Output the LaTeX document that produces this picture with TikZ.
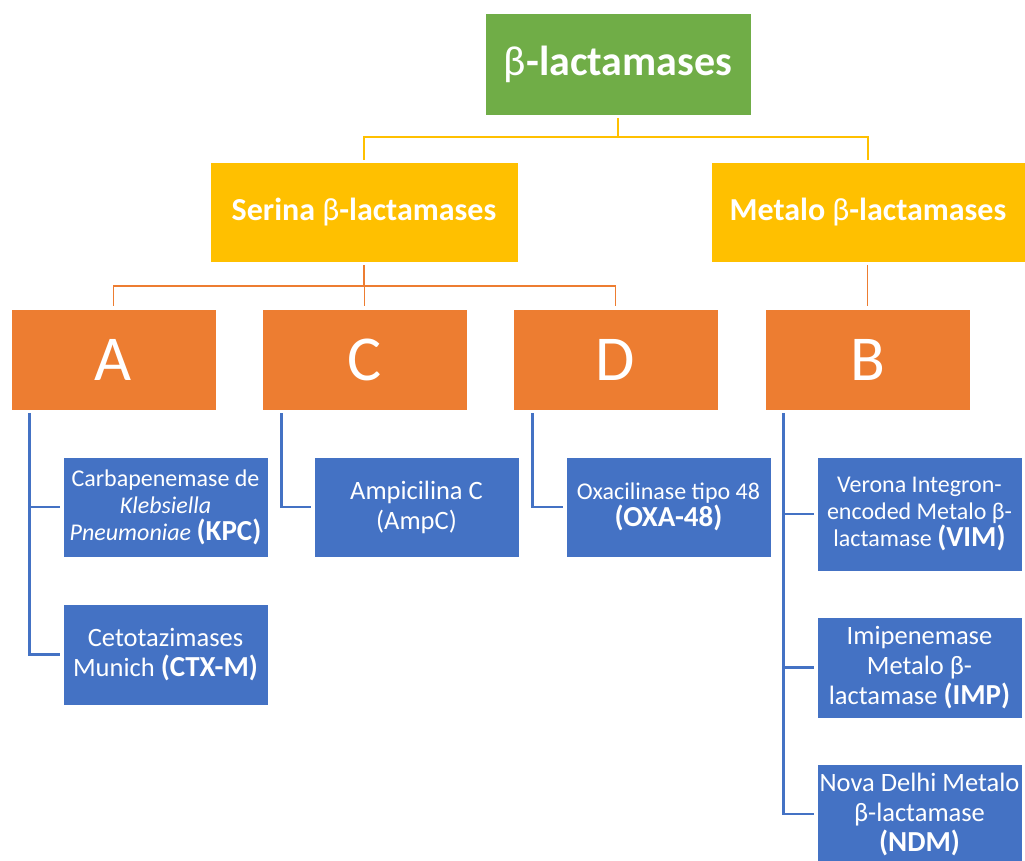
\documentclass[tikz,border=0pt]{standalone}
\usepackage{fontspec}
\setmainfont{Carlito}
\usetikzlibrary{calc}
\definecolor{cgreen}{HTML}{70AD47}
\definecolor{cyellow}{HTML}{FFC000}
\definecolor{corange}{HTML}{ED7D31}
\definecolor{cblue}{HTML}{4472C4}
\newcommand{\bk}[1]{{\fontsize{29}{29}\selectfont\bfseries #1}}
\begin{document}
\begin{tikzpicture}[x=1pt,y=-1pt,
  base/.style={rectangle, draw=white, line width=0.8pt, text=white, inner sep=0pt, align=center},
  rootbox/.style={base, fill=cgreen, minimum width=266pt, minimum height=102pt, font=\fontsize{42}{48}\selectfont\bfseries},
  midbox/.style={base, fill=cyellow, minimum height=100pt, font=\fontsize{32}{38}\selectfont\bfseries},
  letterbox/.style={base, fill=corange, minimum width=205pt, minimum height=101pt, font=\fontsize{64}{70}\selectfont},
  leafbox/.style={base, fill=cblue, minimum width=205pt, font=\fontsize{24}{27}\selectfont},
  leafbig/.style={leafbox, font=\fontsize{26.5}{30}\selectfont},
  yline/.style={draw=cyellow, line width=1.3pt},
  oline/.style={draw=corange, line width=1.3pt},
  bline/.style={draw=cblue, line width=2.8pt}
]
\useasboundingbox (0,0) rectangle (1025,861);
\clip (0,0) rectangle (1025,861);

% level 0
\node[rootbox] (root) at (618,64) {{\mdseries β}-lactamases};
% level 1
\node[midbox, minimum width=308pt] (serina) at (364,212) {Serina {\mdseries β}-lactamases};
\node[midbox, minimum width=314pt] (metalo) at (868,212) {Metalo {\mdseries β}-lactamases};
% level 2
\node[letterbox] (A) at (113.5,359.5) {A};
\node[letterbox] (C) at (364.5,359.5) {C};
\node[letterbox] (D) at (615.5,359.5) {D};
\node[letterbox] (B) at (867.5,359.5) {B};
% level 3
\node[leafbox, minimum height=100pt] (kpc) at (165.5,507) {Carbapenemase de\\ \textit{Klebsiella}\\ \textit{Pneumoniae} \bk{(KPC)}};
\node[leafbig, minimum height=101pt] (ctx) at (165.5,654.5) {Cetotazimases\\ Munich \bk{(CTX-M)}};
\node[leafbig, minimum height=100pt] (ampc) at (416.5,507) {Ampicilina C\\ (AmpC)};
\node[leafbox, minimum height=100pt] (oxa) at (668.5,507) {Oxacilinase tipo 48\\ \bk{(OXA-48)}};
\node[leafbox, minimum height=114pt] (vim) at (919.5,514) {Verona Integron-\\ encoded Metalo β-\\ lactamase \bk{(VIM)}};
\node[leafbig, minimum height=101pt] (imp) at (919.5,667.5) {Imipenemase\\ Metalo β-\\ lactamase \bk{(IMP)}};
\node[leafbig, minimum height=100pt] (ndm) at (919.5,814) {Nova Delhi Metalo\\ β-lactamase\\ \bk{(NDM)}};

% connectors level 0 -> 1
\coordinate (jy1) at (0,137);
\draw[yline] ($(root.south)+(0,3)$) -- (root.south |- jy1);
\draw[yline] ($(serina.north)+(0,-2)$) |- (jy1 -| metalo.north) -- ($(metalo.north)+(0,-2)$);

% connectors level 1 -> 2
\coordinate (jy2) at (0,286);
\draw[oline] ($(serina.south)+(0,3)$) -- (serina.south |- jy2);
\draw[oline] ($(A.north)+(0,-3)$) |- (jy2 -| D.north) -- ($(D.north)+(0,-3)$);
\draw[oline] (jy2 -| C.north) -- ($(C.north)+(0,-3)$);
\draw[oline] ($(B.north |- metalo.south)+(0,3)$) -- ($(B.north)+(0,-3)$);

% connectors level 2 -> 3
\draw[bline] ($(A.south west)+(19,3)$) |- ($(kpc.west)+(-2.5,0)$);
\draw[bline] ($(A.south west)+(19,3)$) |- ($(ctx.west)+(-2.5,0)$);
\draw[bline] ($(C.south west)+(20,3)$) |- ($(ampc.west)+(-2.5,0)$);
\draw[bline] ($(D.south west)+(20,3)$) |- ($(oxa.west)+(-2.5,0)$);
\draw[bline] ($(B.south west)+(19,3)$) |- ($(vim.west)+(-2.5,0)$);
\draw[bline] ($(B.south west)+(19,3)$) |- ($(imp.west)+(-2.5,0)$);
\draw[bline] ($(B.south west)+(19,3)$) |- ($(ndm.west)+(-2.5,0)$);
\end{tikzpicture}
\end{document}
